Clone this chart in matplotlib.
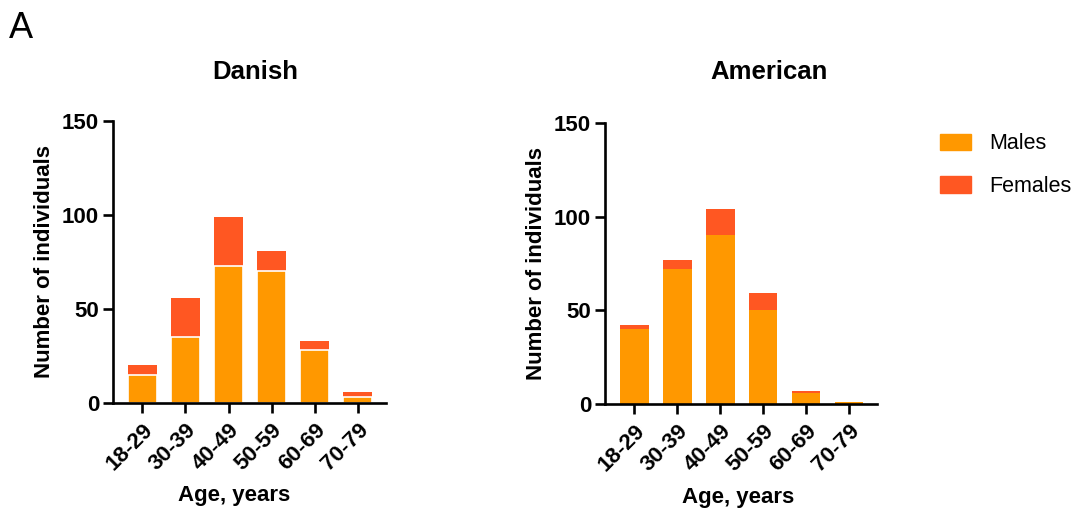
import matplotlib.pyplot as plt
import matplotlib.patches as mpatches
import numpy as np

plt.rcParams['font.family'] = ['Liberation Sans', 'DejaVu Sans']

# grupos de edad y número de individuos por sexo
grupos = ['18-29', '30-39', '40-49', '50-59', '60-69', '70-79']
daneses_h = [15, 35, 73, 70, 28, 3]
daneses_m = [5, 21, 26, 11, 5, 3]
americanos_h = [40, 72, 90, 50, 6, 1]
americanos_m = [2, 5, 14, 9, 1, 0]

c_h = '#FF9800'
c_m = '#FF5722'

fig = plt.figure(figsize=(10.73, 5.12), dpi=100)
ax1 = fig.add_axes([0.1053, 0.2129, 0.2544, 0.5508])
ax2 = fig.add_axes([0.5638, 0.2109, 0.2535, 0.5489])


def panel(ax, hombres, mujeres, borde):
    x = np.arange(len(grupos))
    ax.bar(x, mujeres, bottom=hombres, width=0.67, color=c_m, edgecolor='none')
    if borde:
        ax.bar(x, hombres, width=0.67, color=c_h, edgecolor='white', linewidth=1.2)
    else:
        ax.bar(x, hombres, width=0.67, color=c_h, edgecolor='none')
    ax.set_xlim(-0.68, 5.65)
    ax.set_ylim(0, 150)
    ax.set_yticks([0, 50, 100, 150])
    ax.set_xticks(x)
    ax.set_xticklabels(grupos, rotation=45, ha='right', rotation_mode='anchor')
    for s in ['top', 'right']:
        ax.spines[s].set_visible(False)
    for s in ['left', 'bottom']:
        ax.spines[s].set_linewidth(1.9)
    ax.tick_params(width=1.9, length=7, labelsize=16, pad=3)
    ax.tick_params(axis='x', pad=5)
    for t in ax.get_xticklabels() + ax.get_yticklabels():
        t.set_fontweight('bold')
    ax.set_ylabel('Number of individuals', fontsize=16, fontweight='bold', labelpad=5)


panel(ax1, daneses_h, daneses_m, True)
panel(ax2, americanos_h, americanos_m, False)

fig.text(255 / 1073, 1 - 72 / 512, 'Danish', ha='center', va='center', fontsize=18.5, fontweight='bold')
fig.text(769 / 1073, 1 - 72 / 512, 'American', ha='center', va='center', fontsize=18.5, fontweight='bold')
fig.text(234 / 1073, 1 - 496 / 512, 'Age, years', ha='center', va='center', fontsize=16, fontweight='bold')
fig.text(738 / 1073, 1 - 498 / 512, 'Age, years', ha='center', va='center', fontsize=16, fontweight='bold')
fig.text(9 / 1073, 1 - 28 / 512, 'A', ha='left', va='center', fontsize=26)

# leyenda
handles = [mpatches.Patch(color=c_h, label='Males'), mpatches.Patch(color=c_m, label='Females')]
fig.legend(handles=handles, loc='upper left', bbox_to_anchor=(934 / 1073, 1 - 127 / 512), frameon=False,
           fontsize=15.5, handlelength=1.4, handleheight=0.8, labelspacing=1.0, handletextpad=0.85,
           borderpad=0.3, borderaxespad=0)

fig.savefig('out.png', dpi=100)
